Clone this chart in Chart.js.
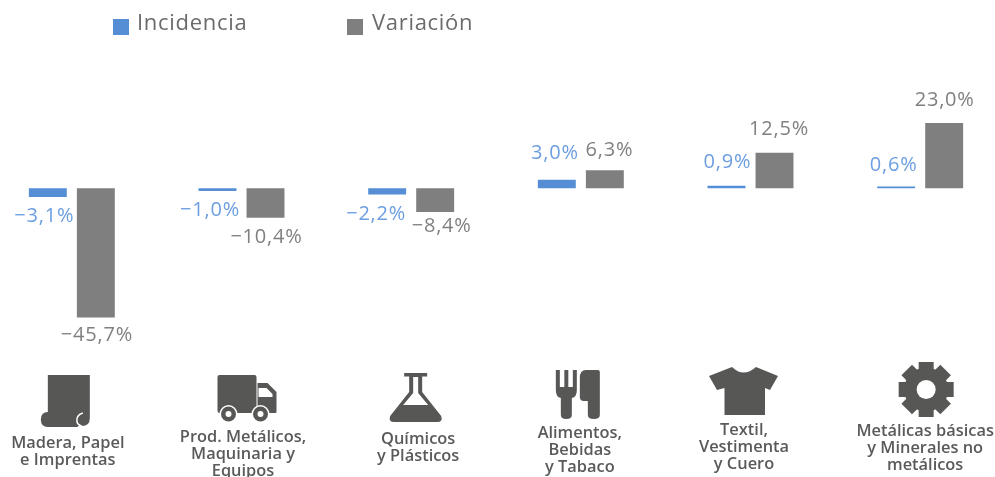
<!DOCTYPE html>
<html>
<head>
<meta charset="utf-8">
<style>
    html, body { margin: 0; padding: 0; background: #fff; overflow: hidden; }
    #wrap { position: absolute; left: -13px; top: 0; width: 1018px; height: 477px; }
</style>
<script src="https://cdn.jsdelivr.net/npm/chart.js@4/dist/chart.umd.min.js"></script>
</head>
<body>
<div id="wrap"><canvas id="chart" width="1018" height="477"></canvas></div>
<script>
const categories = ['Madera, Papel e Imprentas', 'Prod. Metálicos, Maquinaria y Equipos', 'Químicos y Plásticos',
    'Alimentos, Bebidas y Tabaco', 'Textil, Vestimenta y Cuero', 'Metálicas básicas y Minerales no metálicos'];
const incidencia = [-3.1, -1.0, -2.2, 3.0, 0.9, 0.6];
const variacion = [-45.7, -10.4, -8.4, 6.3, 12.5, 23.0];

const categoryLines = [
    ['Madera, Papel', 'e Imprentas'],
    ['Prod. Metálicos,', 'Maquinaria y', 'Equipos'],
    ['Químicos', 'y Plásticos'],
    ['Alimentos,', 'Bebidas', 'y Tabaco'],
    ['Textil,', 'Vestimenta', 'y Cuero'],
    ['Metálicas básicas', 'y Minerales no', 'metálicos'],
];

// label placement, relative to the end of each bar
const labelShift = [
    [[-3.5, 19], [-7.5, 19], [-11, 20], [-2, -26], [1, -23], [-2.5, -21]],
    [[1, 18], [1, 20], [6.5, 14], [4.5, -20], [4.5, -24], [0.5, -23]],
];
const captionX = [-4, 1.5, 7, -1, -6.5, 5];
const captionY = [443, 437, 439, 433, 430, 431];

const BLUE = '#558ed5';
const BLUE_TEXT = '#6c9ee0';
const GREY = '#7f7f7f';
const GREY_TEXT = '#808080';
const DARK = '#575756';
const LABEL_FONT = '20px "Open Sans"';

function formatValue(v) {
    return (v < 0 ? '−' : '') + Math.abs(v).toFixed(1).replace('.', ',');
}

// pictograms above the captions, x relative to the category centre
const icons = [
    function (ctx) {
        ctx.fill(new Path2D('M-24 375 H18 V418 Q18 426 10 426 H0 V412 H-24 Z'));
        ctx.fill(new Path2D('M-24 412 H6 V427 H-24 Q-31 427 -31 419.5 Q-31 412 -24 412 Z'));
        ctx.strokeStyle = '#fff';
        ctx.lineWidth = 1.5;
        ctx.stroke(new Path2D('M11 413 Q5 415 5 420 Q5 425 10 426'));
    },
    function (ctx) {
        ctx.fill(new Path2D('M-22 375 H13 Q15 375 15 377 V413 H-22 Q-24 413 -24 411 V377 Q-24 375 -22 375 Z'));
        ctx.fill(new Path2D('M16 383 H26 L35 392 V412 Q35 413 34 413 H16 Z'));
        ctx.fillStyle = '#fff';
        ctx.fill(new Path2D('M17 388 H25 L31 394 V397 H17 Z'));
        [-13, 19].forEach(x => {
            ctx.fillStyle = '#fff';
            ctx.beginPath(); ctx.arc(x, 414, 9, 0, Math.PI * 2); ctx.fill();
            ctx.fillStyle = DARK;
            ctx.beginPath(); ctx.arc(x, 414, 7.5, 0, Math.PI * 2); ctx.fill();
            ctx.fillStyle = '#fff';
            ctx.beginPath(); ctx.arc(x, 414, 3, 0, Math.PI * 2); ctx.fill();
        });
    },
    function (ctx) {
        ctx.fill(new Path2D('M-7 373 H16 V376.5 H11 V392 L30 416 Q32 422 26 422 H-17 Q-23 422 -21 416 L-2 392 V376.5 H-7 Z'));
        ctx.fillStyle = '#fff';
        ctx.fill(new Path2D('M2 377 H7 V393 L17 405 H-8 L2 393 Z'));
    },
    function (ctx) {
        ctx.fill(new Path2D('M-25 370 H-21 V387 H-16.5 V370 H-12.5 V387 H-8 V370 H-4 V390 Q-4 397 -9 398 V415 Q-9 419 -14.5 419 Q-20 419 -20 415 V398 Q-25 397 -25 390 Z'));
        ctx.fill(new Path2D('M5 370 H17 Q19 370 19 372 V415 Q19 419 13 419 Q7 419 7 415 V401 H3 Q-1 401 -1 397 V378 Q-1 370 5 370 Z'));
    },
    function (ctx) {
        ctx.fill(new Path2D('M-18.5 367 Q-7 378 5.5 367 L27.5 376 L19.5 390 L14.5 388 V415 H-26 V388 L-33.5 390 L-41.5 376 Z'));
    },
    function (ctx) {
        ctx.translate(6, 389.5);
        ctx.beginPath(); ctx.arc(0, 0, 22, 0, Math.PI * 2); ctx.fill();
        for (let i = 0; i < 8; i++) {
            ctx.save();
            ctx.rotate(i * Math.PI / 4);
            ctx.fillRect(-7.5, -27.5, 15, 10);
            ctx.restore();
        }
        ctx.fillStyle = '#fff';
        ctx.beginPath(); ctx.arc(0, 0, 9.5, 0, Math.PI * 2); ctx.fill();
    },
];

const decorations = {
    id: 'decorations',
    afterDraw(chart) {
        const ctx = chart.ctx;
        const x = chart.scales.x;

        // value labels
        ctx.save();
        ctx.font = LABEL_FONT;
        ctx.letterSpacing = '0.8px';
        ctx.textAlign = 'center';
        ctx.textBaseline = 'middle';
        chart.data.datasets.forEach((ds, d) => {
            ctx.fillStyle = d === 0 ? BLUE_TEXT : GREY_TEXT;
            chart.getDatasetMeta(d).data.forEach((bar, i) => {
                const s = labelShift[d][i];
                ctx.fillText(formatValue(ds.data[i]) + '%', bar.x + s[0], bar.y + s[1]);
            });
        });
        ctx.restore();

        // legend
        ctx.save();
        ctx.font = '22px "Open Sans"';
        ctx.letterSpacing = '0.7px';
        ctx.textBaseline = 'middle';
        [[126, 150], [360, 385]].forEach((pos, d) => {
            ctx.fillStyle = chart.data.datasets[d].backgroundColor;
            ctx.fillRect(pos[0], 19, 16, 16);
            ctx.fillStyle = '#6b6b6b';
            ctx.fillText(chart.data.datasets[d].label, pos[1], 24);
        });
        ctx.restore();

        // icons and captions
        categoryLines.forEach((lines, i) => {
            const cx = x.getPixelForValue(i);
            ctx.save();
            ctx.translate(cx, 0);
            ctx.fillStyle = DARK;
            icons[i](ctx);
            ctx.restore();

            ctx.save();
            ctx.font = '600 16.4px "Open Sans"';
            ctx.fillStyle = '#5a5a5a';
            ctx.textAlign = 'center';
            ctx.textBaseline = 'middle';
            lines.forEach((line, n) => {
                ctx.fillText(line, cx + captionX[i], captionY[i] + n * 17);
            });
            ctx.restore();
        });
    },
};

new Chart(document.querySelector('#chart'), {
    type: 'bar',
    data: {
        labels: categories,
        datasets: [
            { label: 'Incidencia', data: incidencia, backgroundColor: BLUE },
            { label: 'Variación', data: variacion, backgroundColor: GREY },
        ],
    },
    options: {
        responsive: false,
        animation: false,
        layout: { padding: { top: 75, bottom: 119, left: 0, right: 0 } },
        datasets: { bar: { categoryPercentage: 0.566, barPercentage: 0.79 } },
        scales: {
            x: { display: false },
            y: { display: false, min: -60, max: 40 },
        },
        plugins: {
            legend: { display: false },
            tooltip: { enabled: false },
        },
    },
    plugins: [decorations],
});
</script>
</body>
</html>
